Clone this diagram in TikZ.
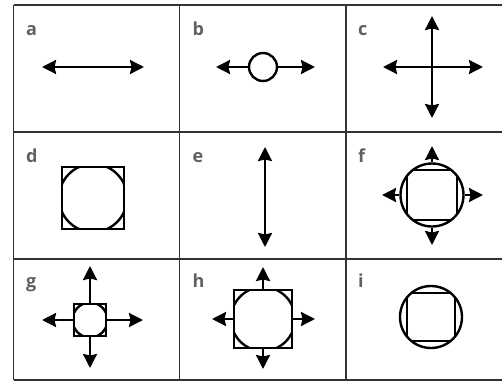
\documentclass[tikz,border=0pt]{standalone}
\usepackage{fontspec}
\setmainfont{Open Sans}
\usetikzlibrary{arrows.meta}
\tikzset{
  gridline/.style={line width=1.5pt, draw=black!80},
  lbl/.style={anchor=base west, inner sep=0pt, text=black!62, font=\fontsize{18}{18}\selectfont\bfseries},
  shp/.style={line width=2.4pt, draw=black},
  ring/.style={circle, shp, inner sep=0pt},
  sqbox/.style={rectangle, shp, inner sep=0pt},
  sgl/.style={line width=2.4pt, -{Stealth[length=14pt,width=14pt,inset=1.5pt]}},
  dbl/.style={line width=2.4pt, {Stealth[length=14pt,width=14pt,inset=1.5pt]}-{Stealth[length=14pt,width=14pt,inset=1.5pt]}}
}
\begin{document}
\begin{tikzpicture}[x=1pt,y=-1pt]
\useasboundingbox (0,0) rectangle (502,383);
\fill[white] (0,0) rectangle (502,383);
% grid
\draw[gridline] (13.5,5) -- (502,5);
\draw[gridline] (13.5,132) -- (502,132);
\draw[gridline] (13.5,259) -- (502,259);
\draw[gridline] (13.5,380) -- (502,380);
\draw[gridline] (13.5,5) -- (13.5,380);
\draw[gridline] (179.5,5) -- (179.5,380);
\draw[gridline] (346,5) -- (346,380);
% labels
\node[lbl] (la) at (26,35) {a};
\node[lbl] (lb) at (192.5,35) {b};
\node[lbl] (lc) at (358,35) {c};
\node[lbl] (ld) at (26,162) {d};
\node[lbl] (le) at (192.5,162) {e};
\node[lbl] (lf) at (358,162) {f};
\node[lbl] (lg) at (26,287) {g};
\node[lbl] (lh) at (192.5,287) {h};
\node[lbl] (li) at (358,287) {i};
% a
\coordinate (a1) at (42,67);
\coordinate (a2) at (144,67);
\draw[dbl] (a1) -- (a2);
% b
\node[ring, minimum size=28pt] (bo) at (263,67) {};
\coordinate (bL) at (216,67);
\coordinate (bR) at (315,67);
\draw[sgl] (bo) -- (bL);
\draw[sgl] (bo) -- (bR);
% c
\coordinate (c0) at (432,67);
\coordinate (cU) at (432,16);
\coordinate (cD) at (432,118);
\coordinate (cL) at (383,67);
\coordinate (cR) at (483,67);
\draw[sgl] (c0) -- (cU);
\draw[sgl] (c0) -- (cD);
\draw[sgl] (c0) -- (cL);
\draw[sgl] (c0) -- (cR);
% d
\node[sqbox, minimum size=62pt,
  path picture={\draw[line width=2.4pt] (path picture bounding box.center) circle (34pt);}] (dsq) at (93,198) {};
% e
\coordinate (e1) at (265,147);
\coordinate (e2) at (265,247);
\draw[dbl] (e1) -- (e2);
% f
\node[ring, minimum size=63pt,
  path picture={\draw[line width=2.4pt] ([shift={(-25pt,-25pt)}]path picture bounding box.center) rectangle ++(50pt,50pt);}] (fo) at (432,195) {};
\coordinate (fU) at (432,146);
\coordinate (fD) at (432,245);
\coordinate (fL) at (382,195);
\coordinate (fR) at (483,195);
\draw[sgl] (fo) -- (fU);
\draw[sgl] (fo) -- (fD);
\draw[sgl] (fo) -- (fL);
\draw[sgl] (fo) -- (fR);
% g
\node[sqbox, minimum size=32pt,
  path picture={\draw[line width=2.4pt] (path picture bounding box.center) circle (17.5pt);}] (gsq) at (90,320) {};
\coordinate (gU) at (90,266);
\coordinate (gD) at (90,368);
\coordinate (gL) at (42,320);
\coordinate (gR) at (143,320);
\draw[sgl] (gsq) -- (gU);
\draw[sgl] (gsq) -- (gD);
\draw[sgl] (gsq) -- (gL);
\draw[sgl] (gsq) -- (gR);
% h
\node[sqbox, minimum size=58pt,
  path picture={\draw[line width=2.4pt] (path picture bounding box.center) circle (32pt);}] (hsq) at (263,319) {};
\coordinate (hU) at (263,267);
\coordinate (hD) at (263,369);
\coordinate (hL) at (212,319);
\coordinate (hR) at (315,319);
\draw[sgl] (hsq) -- (hU);
\draw[sgl] (hsq) -- (hD);
\draw[sgl] (hsq) -- (hL);
\draw[sgl] (hsq) -- (hR);
% i
\node[ring, minimum size=62pt,
  path picture={\draw[line width=2.4pt] ([shift={(-24pt,-24pt)}]path picture bounding box.center) rectangle ++(48pt,48pt);}] (io) at (431,317) {};
\end{tikzpicture}
\end{document}
